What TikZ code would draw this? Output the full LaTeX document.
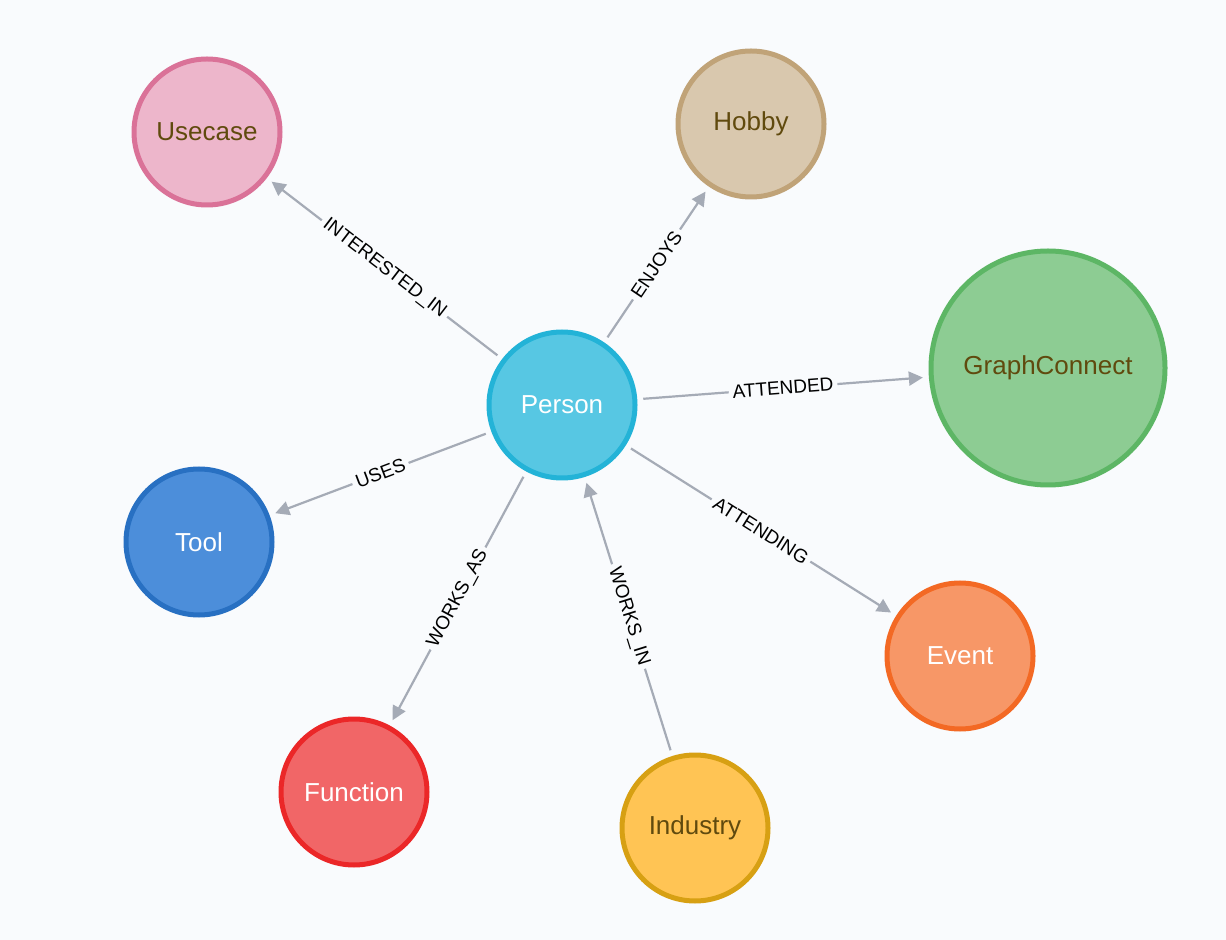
\documentclass[tikz,border=0pt]{standalone}
\usepackage{fontspec}
\setmainfont{Liberation Sans}
\usetikzlibrary{arrows.meta}
\definecolor{bg}{HTML}{F9FBFD}
\definecolor{edge}{HTML}{A5ABB6}
\definecolor{brn}{HTML}{604A0E}
\begin{document}
\begin{tikzpicture}[x=0.5pt,y=-0.5pt,
 nd/.style={circle,minimum size=#1*1pt,inner sep=0pt,line width=2.5pt,font=\fontsize{13}{15}\selectfont},
 ed/.style={draw=edge,line width=1.1pt,-{Triangle[length=7pt,width=7pt]},shorten >=3pt,shorten <=3pt},
 lb/.style={sloped,fill=bg,inner sep=2pt,font=\fontsize{9.5}{10}\selectfont,text=black}]
\fill[bg] (0,0) rectangle (1226,940);
\useasboundingbox (0,0) rectangle (1226,940);
\node[nd=73,fill={rgb,255:red,87;green,199;blue,227},draw={rgb,255:red,35;green,179;blue,215},text=white] (p) at (562,405) {Person};
\node[nd=73,fill={rgb,255:red,237;green,182;blue,203},draw={rgb,255:red,218;green,114;blue,152},text=brn] (u) at (207,132) {Usecase};
\node[nd=73,fill={rgb,255:red,217;green,200;blue,174},draw={rgb,255:red,192;green,163;blue,120},text=brn] (h) at (751,124) {Hobby};
\node[nd=117,fill={rgb,255:red,141;green,204;blue,147},draw={rgb,255:red,93;green,182;blue,101},text=brn] (g) at (1048,368) {GraphConnect};
\node[nd=73,fill={rgb,255:red,76;green,142;blue,218},draw={rgb,255:red,40;green,112;blue,194},text=white] (t) at (199,542) {Tool};
\node[nd=73,fill={rgb,255:red,241;green,102;blue,103},draw={rgb,255:red,235;green,39;blue,40},text=white] (f) at (354,792) {Function};
\node[nd=73,fill={rgb,255:red,255;green,196;blue,84},draw={rgb,255:red,215;green,160;blue,19},text=brn] (i) at (695,828) {Industry};
\node[nd=73,fill={rgb,255:red,247;green,151;blue,103},draw={rgb,255:red,243;green,105;blue,36},text=white] (e) at (960,656) {Event};
\draw[ed] (p) -- node[lb]{INTERESTED\_IN} (u);
\draw[ed] (p) -- node[lb]{ENJOYS} (h);
\draw[ed] (p) -- node[lb]{ATTENDED} (g);
\draw[ed] (p) -- node[lb]{USES} (t);
\draw[ed] (p) -- node[lb]{WORKS\_AS} (f);
\draw[ed] (i) -- node[lb]{WORKS\_IN} (p);
\draw[ed] (p) -- node[lb]{ATTENDING} (e);
\end{tikzpicture}
\end{document}
